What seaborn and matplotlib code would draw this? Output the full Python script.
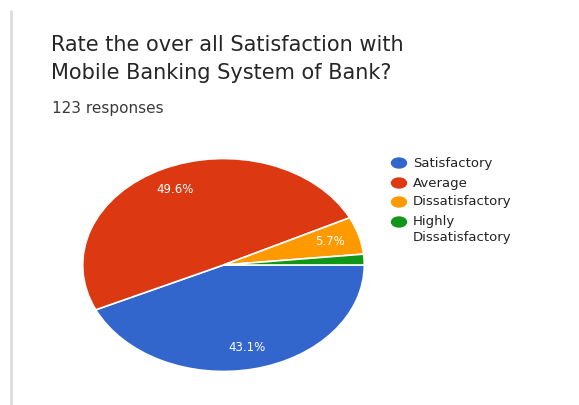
import matplotlib
matplotlib.use("Agg")
import matplotlib.pyplot as plt
from matplotlib.patches import Ellipse
import seaborn as sns

# Survey results
categories = ["Satisfactory", "Average", "Dissatisfactory", "Highly\nDissatisfactory"]
counts = [53, 61, 7, 2]
total_responses = 123
title_lines = ["Rate the over all Satisfaction with", "Mobile Banking System of Bank?"]

sns.set_theme(style="white")
plt.rcParams["font.family"] = ["DejaVu Sans"]

colors = sns.color_palette(["#3366cc", "#dc3912", "#ff9900", "#109618"])

W, H = 579, 405
fig = plt.figure(figsize=(W / 100, H / 100), dpi=100)
fig.patch.set_facecolor("white")

# Overlay in pixel coordinates for the card decorations, title and legend
ov = fig.add_axes([0, 0, 1, 1])
ov.set_xlim(0, W)
ov.set_ylim(H, 0)
ov.axis("off")

# Card left border
ov.plot([11, 11], [10, H], color="#dcdcdc", lw=2, solid_capstyle="butt")

ov.text(51, 51, title_lines[0], fontsize=15, color="#262626", va="baseline")
ov.text(51, 79, title_lines[1], fontsize=15, color="#262626", va="baseline")
ov.text(52, 113, f"{total_responses} responses", fontsize=11, color="#3a3a3a", va="baseline")

# Pie drawn as an ellipse filling its own axes
left, right, top, bottom = 82, 365, 158, 372
ax = fig.add_axes([left / W, (H - bottom) / H, (right - left) / W, (bottom - top) / H])


def pct_label(p):
    return f"{p:.1f}%" if p >= 5 else ""


wedges, texts, autotexts = ax.pie(
    counts,
    colors=colors,
    startangle=0,
    counterclock=False,
    autopct=pct_label,
    pctdistance=0.79,
    wedgeprops=dict(edgecolor="white", linewidth=1.2),
    textprops=dict(color="white", fontsize=8.5),
)
ax.set_aspect("auto")
ax.set_xlim(-1.005, 1.005)
ax.set_ylim(-1.005, 1.005)
ax.axis("off")

# Legend
rows = [163, 183, 202, 222]
for cat, col, y in zip(categories, colors, rows):
    ov.add_patch(Ellipse((399, y), 15, 10, color=col))
    for i, ln in enumerate(cat.split("\n")):
        ov.text(413, y + i * 15, ln, fontsize=9.5, color="#222222", va="center")

fig.savefig("out.png", dpi=100, facecolor="white")
